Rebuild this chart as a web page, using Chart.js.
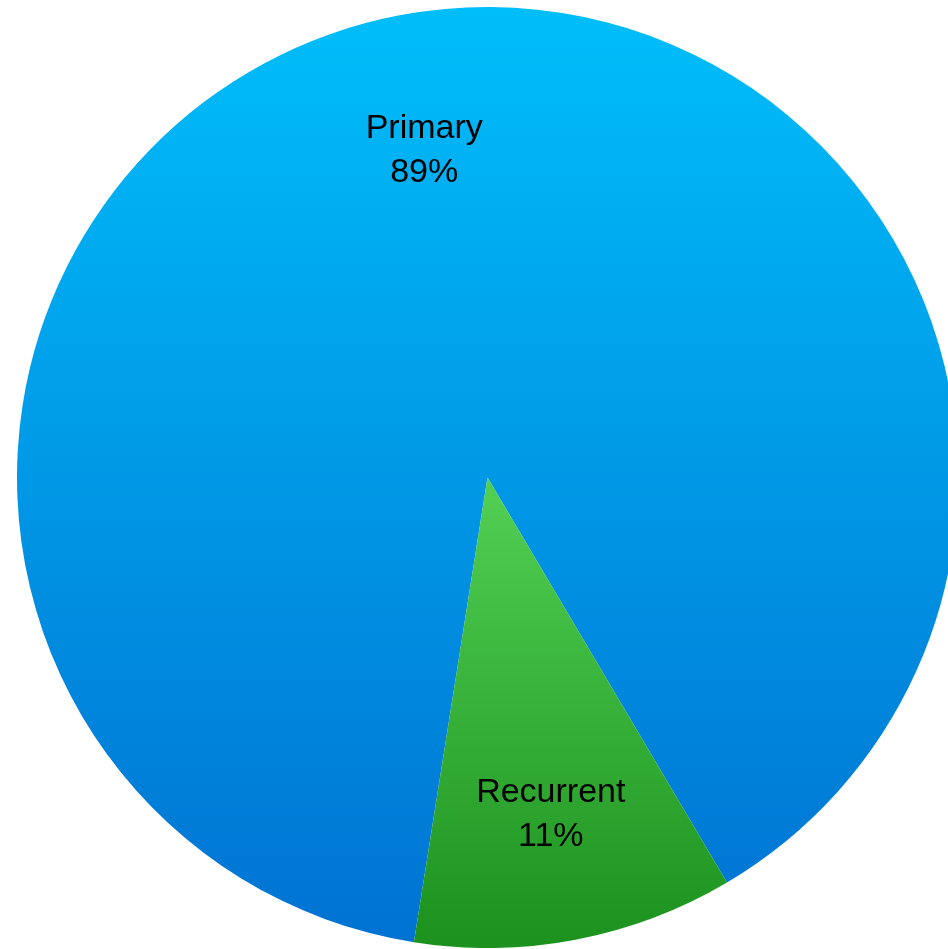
<!DOCTYPE html>
<html>
<head>
<meta charset="utf-8">
<title>Primary vs Recurrent</title>
<script src="https://cdn.jsdelivr.net/npm/chart.js@4"></script>
<style>
  html, body { margin: 0; padding: 0; background: #fff; overflow: hidden; width: 948px; height: 949px; }
  #wrap { position: absolute; left: 17px; top: 7px; width: 941px; height: 941px; }
</style>
</head>
<body>
<div id="wrap"><canvas id="pieChart" width="941" height="941"></canvas></div>
<script>
const categories = ['Primary', 'Recurrent'];
const shares = [89, 11];
const pctLabels = ['89%', '11%'];

// top / bottom colours of each slice's vertical gradient
const gradStops = [
    ['#00befa', '#0072d2'],
    ['#52d054', '#1c911e']
];

const ctx = document.getElementById('pieChart').getContext('2d');

function sliceFill(context) {
    const chart = context.chart;
    const area = chart.chartArea;
    const idx = context.dataIndex;
    if (!area) return gradStops[idx][0];
    const cy = (area.top + area.bottom) / 2;
    const r = Math.min(area.right - area.left, area.bottom - area.top) / 2;
    // blue spans the whole circle, green from the centre down
    const top = idx === 0 ? cy - r : cy;
    const g = chart.ctx.createLinearGradient(0, top, 0, cy + r);
    g.addColorStop(0, gradStops[idx][0]);
    g.addColorStop(1, gradStops[idx][1]);
    return g;
}

// labels drawn inside each slice, two lines
const sliceLabels = {
    id: 'sliceLabels',
    afterDatasetsDraw(chart) {
        const c = chart.ctx;
        const meta = chart.getDatasetMeta(0);
        c.save();
        c.fillStyle = '#000';
        c.font = '34px "Liberation Sans", Arial, sans-serif';
        c.textAlign = 'center';
        c.textBaseline = 'middle';
        meta.data.forEach((arc, i) => {
            const mid = (arc.startAngle + arc.endAngle) / 2;
            const d = arc.outerRadius * 0.718;
            const x = arc.x + Math.cos(mid) * d;
            const y = arc.y + Math.sin(mid) * d;
            c.fillText(categories[i], x, y - 17);
            c.fillText(pctLabels[i], x, y + 27);
        });
        c.restore();
    }
};

const pieChart = new Chart(ctx, {
    type: 'pie',
    data: {
        labels: categories,
        datasets: [{
            data: shares,
            backgroundColor: sliceFill,
            borderWidth: 0
        }]
    },
    options: {
        responsive: false,
        animation: false,
        devicePixelRatio: 1,
        rotation: 189,
        layout: { padding: 0 },
        plugins: {
            legend: { display: false },
            tooltip: { enabled: false }
        }
    },
    plugins: [sliceLabels]
});
</script>
</body>
</html>
